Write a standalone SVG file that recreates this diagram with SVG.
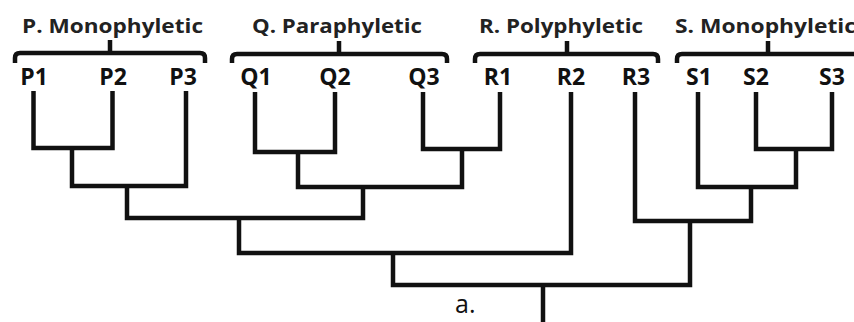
<svg xmlns="http://www.w3.org/2000/svg" width="854" height="322" viewBox="0 0 854 322">
  <style>
    .br { fill: none; stroke: #111; stroke-width: 4.5; stroke-linejoin: round; }
    .ln { fill: none; stroke: #111; stroke-width: 4.5; stroke-linejoin: miter; }
    .title { font-family: "Open Sans", "Liberation Sans", sans-serif; font-weight: bold; font-size: 19px; fill: #222; }
    .leaf { font-family: "Open Sans", "Liberation Sans", sans-serif; font-weight: bold; font-size: 23px; fill: #111; text-anchor: middle; }
    .cap { font-family: "Open Sans", "Liberation Sans", sans-serif; font-size: 25px; fill: #111; }
  </style>
  <rect width="854" height="322" fill="#fff"/>

  <!-- clade P -->
  <g id="clade-P">
    <text class="title" x="22" y="33" textLength="181" lengthAdjust="spacingAndGlyphs">P. Monophyletic</text>
    <path class="br" d="M15,63 V58 Q15,53 20,53 H200 Q205,53 205,58 V63 M110,53 V40"/>
    <text class="leaf" x="34" y="85">P1</text>
    <text class="leaf" x="113" y="85">P2</text>
    <text class="leaf" x="183" y="85">P3</text>
  </g>

  <!-- clade Q -->
  <g id="clade-Q">
    <text class="title" x="252" y="33" textLength="170" lengthAdjust="spacingAndGlyphs">Q. Paraphyletic</text>
    <path class="br" d="M232,63 V59 Q232,54 237,54 H442 Q447,54 447,59 V63 M339,54 V41"/>
    <text class="leaf" x="256" y="85">Q1</text>
    <text class="leaf" x="335" y="85">Q2</text>
    <text class="leaf" x="424" y="85">Q3</text>
  </g>

  <!-- clade R -->
  <g id="clade-R">
    <text class="title" x="479" y="33" textLength="164" lengthAdjust="spacingAndGlyphs">R. Polyphyletic</text>
    <path class="br" d="M475,63 V59 Q475,54 480,54 H653 Q658,54 658,59 V63 M567,54 V41"/>
    <text class="leaf" x="498" y="85">R1</text>
    <text class="leaf" x="571" y="85">R2</text>
    <text class="leaf" x="636" y="85">R3</text>
  </g>

  <!-- clade S -->
  <g id="clade-S">
    <text class="title" x="675" y="33" textLength="181" lengthAdjust="spacingAndGlyphs">S. Monophyletic</text>
    <path class="br" d="M677,63 V59 Q677,54 682,54 H860 M768,54 V41"/>
    <text class="leaf" x="699" y="85">S1</text>
    <text class="leaf" x="756" y="85">S2</text>
    <text class="leaf" x="832" y="85">S3</text>
  </g>

  <!-- tree branches -->
  <g id="connectors">
    <path class="ln" d="M33.5,91 V148 H112.5 V91"/>
    <path class="ln" d="M72,148 V186 H186 V91"/>
    <path class="ln" d="M127,186 V218 H363 V187"/>
    <path class="ln" d="M255,92 V152 H335 V92"/>
    <path class="ln" d="M298,152 V187 H462 V149"/>
    <path class="ln" d="M423,92 V149 H500 V92"/>
    <path class="ln" d="M239,218 V253 H571 V92"/>
    <path class="ln" d="M635,92 V221 H751 V187"/>
    <path class="ln" d="M698,92 V187 H796 V149"/>
    <path class="ln" d="M756,92 V149 H832 V92"/>
    <path class="ln" d="M393,253 V285 H690 V221"/>
    <path class="ln" d="M543,285 V322"/>
  </g>

  <text class="cap" x="455" y="313">a.</text>
</svg>
